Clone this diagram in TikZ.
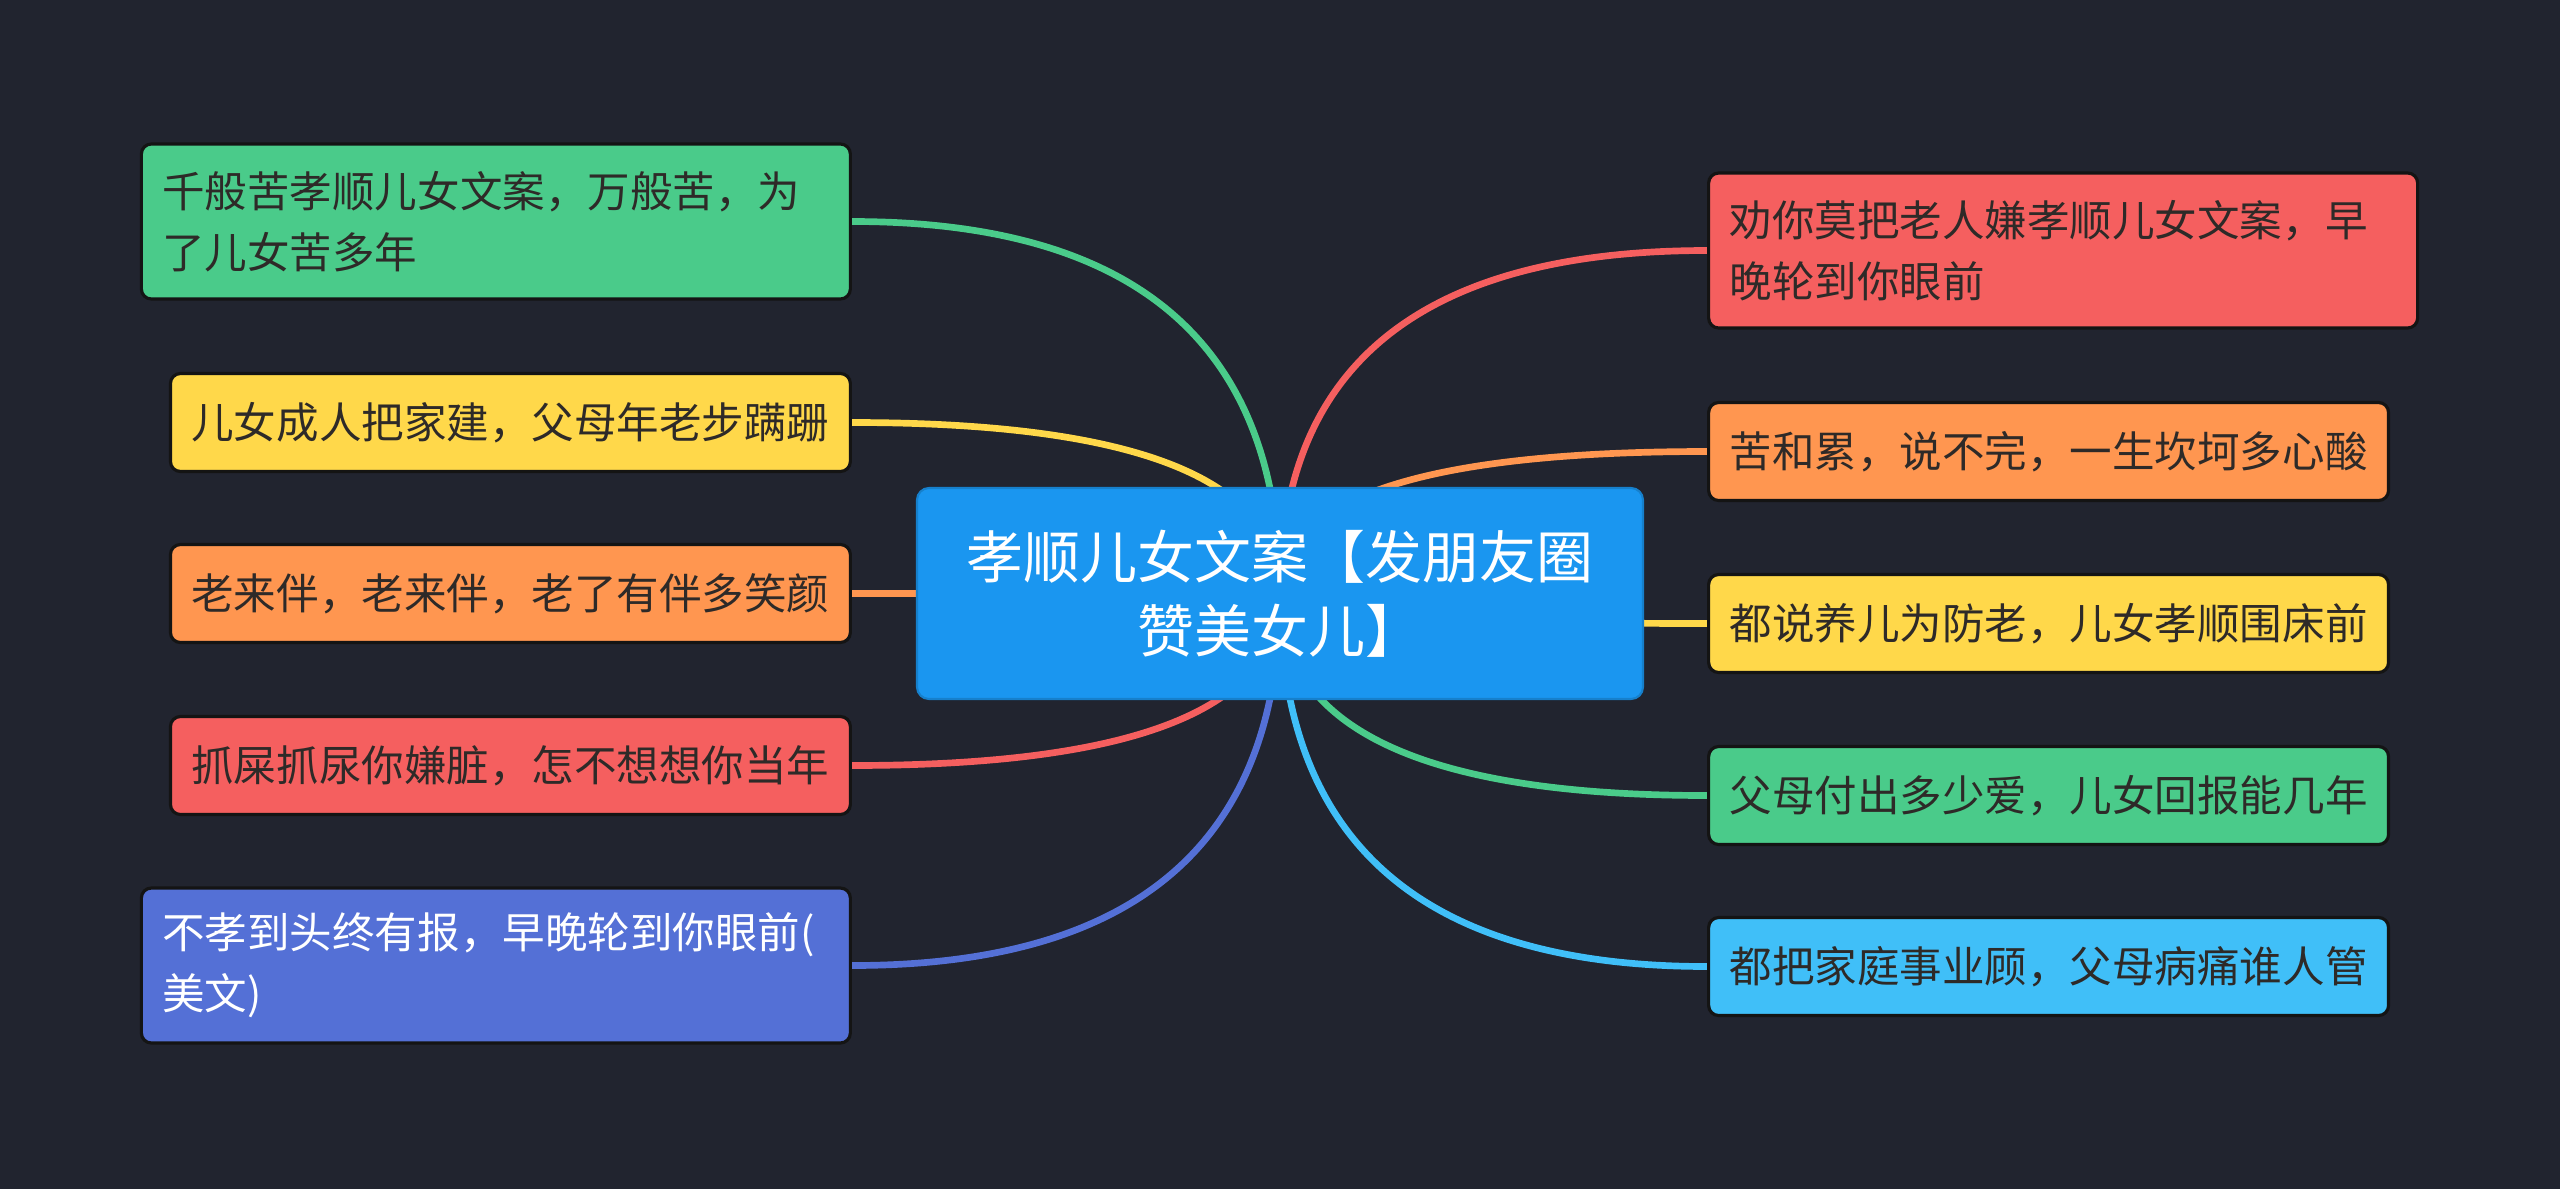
\documentclass[tikz,border=0pt]{standalone}
\usepackage{fontspec}
\newfontfamily\cjk{Noto Sans CJK SC}
\usetikzlibrary{positioning, calc, backgrounds}
\definecolor{night}{HTML}{21242F}
\definecolor{rootblue}{HTML}{1A96F0}
\definecolor{mint}{HTML}{4ACB8A}
\definecolor{sun}{HTML}{FFD84A}
\definecolor{peach}{HTML}{FF9650}
\definecolor{coral}{HTML}{F55F5F}
\definecolor{indigo}{HTML}{5470D6}
\definecolor{sky}{HTML}{40BFF8}
\definecolor{ink}{HTML}{2E2A28}
\definecolor{rim}{HTML}{141414}
\tikzset{
  box/.style={draw=rim, line width=0.9pt, rounded corners=0.1cm, align=left,
              inner xsep=0.21cm, minimum height=0.98cm, text=ink,
              font=\cjk\fontsize{12.1}{17.3}\selectfont},
  twoline/.style={text width=6.67cm, minimum height=1.55cm},
  topic/.style={fill=rootblue, draw=rootblue!85!black, line width=0.6pt, rounded corners=0.12cm,
                minimum width=7.26cm, minimum height=2.11cm, text width=6.8cm,
                align=center, text=white, font=\cjk\fontsize{16.2}{21}\selectfont},
  link/.style={line width=1.9pt, to path={.. controls ($(\tikztostart)!0.667!(\tikztostart |- \tikztotarget)$)
               and ($(\tikztotarget)!0.667!(\tikztostart |- \tikztotarget)$) .. (\tikztotarget)}},
}

\begin{document}
\begin{tikzpicture}
  \useasboundingbox (0,0) rectangle (25.6,-11.89);

  % ---- centre ----
  \node[topic] (root) at (12.8,-5.935) {孝顺儿女文案【发朋友圈\\赞美女儿】};

  % ---- left side ----
  \node[box, twoline, fill=mint, left=0.64cm of root, yshift=3.72cm] (qian)
    {千般苦孝顺儿女文案，万般苦，为\\了儿女苦多年};
  \node[box, fill=sun, left=0.64cm of root, yshift=1.71cm] (jia)
    {儿女成人把家建，父母年老步蹒跚};
  \node[box, fill=peach, left=0.64cm of root] (ban)
    {老来伴，老来伴，老了有伴多笑颜};
  \node[box, fill=coral, left=0.64cm of root, yshift=-1.72cm] (zang)
    {抓屎抓尿你嫌脏，怎不想想你当年};
  \node[box, twoline, fill=indigo, text=white, left=0.64cm of root, yshift=-3.72cm] (bao)
    {不孝到头终有报，早晚轮到你眼前(\\美文)};

  % ---- right side ----
  \node[box, twoline, fill=coral, right=0.63cm of root, yshift=3.43cm] (quan)
    {劝你莫把老人嫌孝顺儿女文案，早\\晚轮到你眼前};
  \node[box, fill=peach, right=0.63cm of root, yshift=1.42cm] (suan)
    {苦和累，说不完，一生坎坷多心酸};
  \node[box, fill=sun, right=0.63cm of root, yshift=-0.30cm] (fang)
    {都说养儿为防老，儿女孝顺围床前};
  \node[box, fill=mint, right=0.63cm of root, yshift=-2.02cm] (ai)
    {父母付出多少爱，儿女回报能几年};
  \node[box, fill=sky, right=0.63cm of root, yshift=-3.73cm] (guan)
    {都把家庭事业顾，父母病痛谁人管};

  % ---- branches, behind the boxes ----
  \begin{scope}[on background layer]
    \fill[night] (0,0) rectangle (25.6,-11.89);
    \draw[link, mint]   (root.center) to (qian.east);
    \draw[link, sun]    (root.center) to (jia.east);
    \draw[link, peach]  (root.center) to (ban.east);
    \draw[link, coral]  (root.center) to (zang.east);
    \draw[link, indigo] (root.center) to (bao.east);
    \draw[link, coral]  (root.center) to (quan.west);
    \draw[link, peach]  (root.center) to (suan.west);
    \draw[link, sun]    (root.center) to (fang.west);
    \draw[link, mint]   (root.center) to (ai.west);
    \draw[link, sky]    (root.center) to (guan.west);
  \end{scope}
\end{tikzpicture}
\end{document}
